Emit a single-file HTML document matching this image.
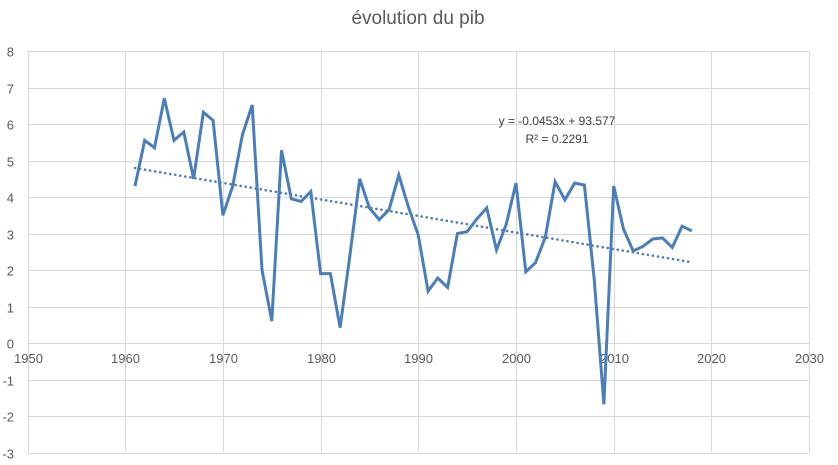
<!DOCTYPE html>
<html><head><meta charset="utf-8"><style>
html,body{margin:0;padding:0;background:#fff;}
svg{display:block;font-family:"Liberation Sans",sans-serif;}
</style></head><body>
<svg id="s" width="838" height="465" xmlns="http://www.w3.org/2000/svg">
<rect width="838" height="465" fill="#fff"/>
<text x="418" y="24" text-anchor="middle" font-size="19" fill="#595959">évolution du pib</text>
<g id="grid" stroke="#d9d9d9" stroke-width="1"></g>
<g id="lbl" font-size="13" fill="#595959"></g>
<polyline id="trend" fill="none" stroke="#4a7ebb" stroke-width="2.6" stroke-dasharray="0.1 5" stroke-linecap="round"/>
<polyline id="ser" fill="none" stroke="#4a7ebb" stroke-width="3" stroke-linejoin="miter"/>
<text x="557" y="125" text-anchor="middle" font-size="12" fill="#404040">y = -0.0453x + 93.577</text>
<text x="557" y="143" text-anchor="middle" font-size="12" fill="#404040">R² = 0.2291</text>
</svg>
<script>
var X=function(y){return 27.5+(y-1950)*9.77;},Y=function(v){return 343-v*36.5;};
var g=document.getElementById('grid'),l=document.getElementById('lbl'),ns='http://www.w3.org/2000/svg';
function el(p,t,a){var e=document.createElementNS(ns,t);for(var k in a)e.setAttribute(k,a[k]);p.appendChild(e);return e;}
for(var v=-3;v<=8;v++){var y=Math.round(Y(v))+0.5;el(g,'line',{x1:27.5,x2:809.5,y1:y,y2:y});var t=el(l,'text',{x:14,y:y+5,'text-anchor':'end'});t.textContent=v;}
for(var yr=1950;yr<=2030;yr+=10){var x=Math.round(X(yr))+0.5;el(g,'line',{x1:x,x2:x,y1:Y(8),y2:Y(-3)});var t=el(l,'text',{x:x,y:363,'text-anchor':'middle'});t.textContent=yr;}
var d=[4.3,5.55,5.35,6.7,5.55,5.78,4.5,6.32,6.1,3.5,4.3,5.7,6.52,2.0,0.6,5.28,3.95,3.88,4.15,1.9,1.9,0.42,2.4,4.5,3.7,3.38,3.65,4.6,3.72,2.95,1.42,1.78,1.52,3.0,3.05,3.4,3.7,2.55,3.25,4.38,1.95,2.2,2.9,4.42,3.92,4.38,4.33,1.75,-1.68,4.3,3.12,2.52,2.65,2.85,2.88,2.62,3.2,3.07];
var p=d.map(function(v,i){return X(1961+i).toFixed(1)+','+Y(v).toFixed(1);}).join(' ');
document.getElementById('ser').setAttribute('points',p);
var f=function(x){return -0.0453*x+93.577+0.05;};
document.getElementById('trend').setAttribute('points',X(1961)+','+Y(f(1961))+' '+X(2018)+','+Y(f(2018)));
</script>
</body></html>
